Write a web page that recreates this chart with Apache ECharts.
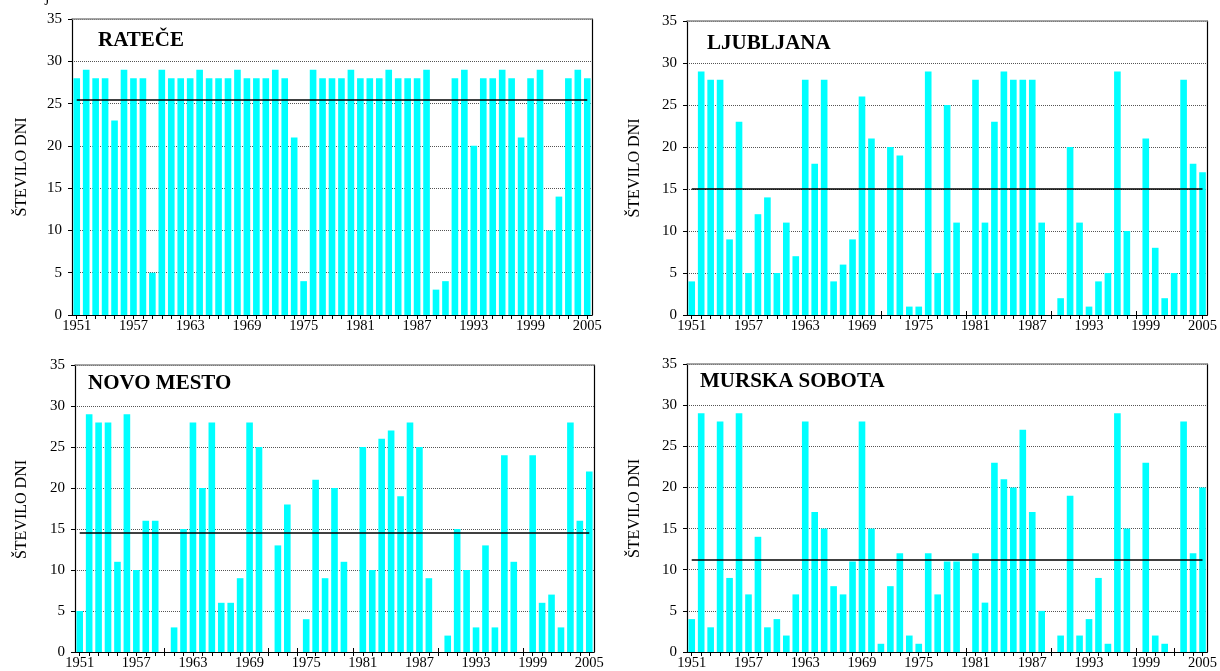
<!DOCTYPE html>
<html>
<head>
<meta charset="utf-8">
<script src="https://cdn.jsdelivr.net/npm/echarts@6/dist/echarts.min.js"></script>
<style>
html,body{margin:0;padding:0;background:#fff;}
#chart{width:1220px;height:671px;}
</style>
</head>
<body>
<div id="chart"></div>
<script>
// ---- DATA ----
const years = [];
for (let y = 1951; y <= 2005; y++) years.push(String(y));

const stationNames = ['RATEČE', 'LJUBLJANA', 'NOVO MESTO', 'MURSKA SOBOTA'];

const ratece = [28,29,28,28,23,29,28,28,5,29, 28,28,28,29,28,28,28,29,28,28, 28,29,28,21,4,29,28,28,28,29, 28,28,28,29,28,28,28,29,3,4, 28,29,20,28,28,29,28,21,28,29, 10,14,28,29,28];
const ljubljana = [4,29,28,28,9,23,5,12,14,5, 11,7,28,18,28,4,6,9,26,21, 0,20,19,1,1,29,5,25,11,0, 28,11,23,29,28,28,28,11,0,2, 20,11,1,4,5,29,10,0,21,8, 2,5,28,18,17];
const novoMesto = [5,29,28,28,11,29,10,16,16,0, 3,15,28,20,28,6,6,9,28,25, 0,13,18,0,4,21,9,20,11,0, 25,10,26,27,19,28,25,9,0,2, 15,10,3,13,3,24,11,0,24,6, 7,3,28,16,22];
const murskaSobota = [4,29,3,28,9,29,7,14,3,4, 2,7,28,17,15,8,7,11,28,15, 1,8,12,2,1,12,7,11,11,0, 12,6,23,21,20,27,17,5,0,2, 19,2,4,9,1,29,15,0,23,2, 1,0,28,12,20];

const means = [25.5, 15.05, 14.55, 11.2];

const yAxisName = 'ŠTEVILO DNI';

// ---- LAYOUT ----
const series = [ratece, ljubljana, novoMesto, murskaSobota];
const grids = [
  {left: 72, top: 19, width: 520, height: 296},
  {left: 687, top: 21, width: 523, height: 294},
  {left: 75, top: 365, width: 519, height: 289},
  {left: 687, top: 364, width: 523, height: 289}
];
const titlePos = [[98, 30], [707, 33], [88, 373], [700, 371]];
const yNameX = [22, 635, 22, 635];

const FONT = '"Liberation Serif", "Times New Roman", serif';

const option = {
  animation: false,
  backgroundColor: '#fff',
  textStyle: {fontFamily: FONT},
  grid: grids.map(g => Object.assign({containLabel: false}, g)),
  xAxis: [],
  yAxis: [],
  series: [],
  graphic: []
};

grids.forEach((g, i) => {
  const base = option.xAxis.length;
  option.xAxis.push({
    type: 'category', gridIndex: i, data: years, position: 'bottom',
    boundaryGap: true, z: 2,
    axisLine: {show: true, lineStyle: {color: '#000', width: 1.2}},
    axisTick: {show: true, alignWithLabel: true, interval: 0, length: 4, lineStyle: {color: '#000'}},
    axisLabel: {interval: 5, color: '#000', fontFamily: FONT, fontSize: 14.5, margin: 4},
    splitLine: {show: false}
  });
  option.xAxis.push({
    type: 'category', gridIndex: i, data: years, position: 'bottom',
    boundaryGap: true,
    axisLine: {show: false},
    axisTick: {show: true, inside: true, alignWithLabel: true, interval: 0, length: 4, lineStyle: {color: '#000'}},
    axisLabel: {show: false},
    splitLine: {show: false}
  });
  option.xAxis.push({
    type: 'category', gridIndex: i, data: years, position: 'top', z: 2,
    axisLine: {show: true, lineStyle: {color: '#888', width: 1.5}},
    axisTick: {show: false}, axisLabel: {show: false}, splitLine: {show: false}
  });
  const yb = option.yAxis.length;
  option.yAxis.push({
    type: 'value', gridIndex: i, min: 0, max: 35, interval: 5, position: 'left', z: 2,
    axisLine: {show: true, lineStyle: {color: '#000', width: 1.2}},
    axisTick: {show: true, length: 4, lineStyle: {color: '#000'}},
    axisLabel: {color: '#000', fontFamily: FONT, fontSize: 15, margin: 10},
    splitLine: {show: true, lineStyle: {color: '#555', type: [1, 1], width: 1}}
  });
  option.yAxis.push({
    type: 'value', gridIndex: i, min: 0, max: 35, interval: 5, position: 'right', z: 2,
    axisLine: {show: true, lineStyle: {color: '#000', width: 1.2}},
    axisTick: {show: false}, axisLabel: {show: false}, splitLine: {show: false}
  });
  option.series.push({
    type: 'bar', name: stationNames[i],
    xAxisIndex: base, yAxisIndex: yb,
    data: series[i],
    barCategoryGap: '30%',
    itemStyle: {color: '#00FFFF'},
    z: 3,
    markLine: {
      silent: true, symbol: 'none', animation: false,
      label: {show: false},
      lineStyle: {color: '#000', width: 1.5, type: 'solid'},
      data: [[{coord: [years[0], means[i]]}, {coord: [years[years.length - 1], means[i]]}]]
    }
  });
  option.graphic.push({
    type: 'text', left: titlePos[i][0], top: titlePos[i][1],
    style: {text: stationNames[i], font: 'bold 21px ' + FONT, fill: '#000'}
  });
  option.graphic.push({
    type: 'text', x: yNameX[i], y: g.top + g.height / 2, rotation: Math.PI / 2,
    style: {text: yAxisName, font: '16px ' + FONT, fill: '#000', align: 'center', verticalAlign: 'middle'}
  });
});

option.graphic.push({
  type: 'text', left: 45, top: -11,
  style: {text: 'j', font: '16px ' + FONT, fill: '#000'}
});

const chart = echarts.init(document.getElementById('chart'), null, {renderer: 'canvas'});
chart.setOption(option);
</script>
</body>
</html>
